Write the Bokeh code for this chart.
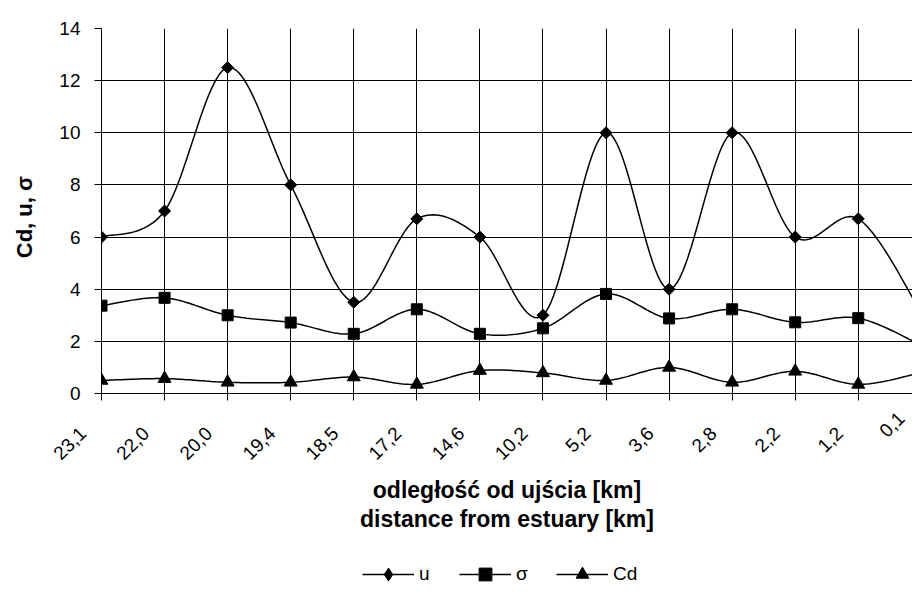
import math
import numpy as np
from bokeh.plotting import figure
from bokeh.layouts import column
from bokeh.models import Legend, LegendItem, FixedTicker, Range1d
from bokeh.embed import file_html
from bokeh.resources import INLINE

categories = ["23,1", "22,0", "20,0", "19,4", "18,5", "17,2", "14,6",
              "10,2", "5,2", "3,6", "2,8", "2,2", "1,2", "0,1"]
u_vals = [6.0, 7.0, 12.5, 8.0, 3.5, 6.7, 6.0, 3.0, 10.0, 4.0, 10.0, 6.0, 6.7, 3.1]
sigma_vals = [3.37, 3.67, 3.0, 2.72, 2.29, 3.23, 2.29, 2.5, 3.82, 2.88, 3.23, 2.73, 2.89, 1.85]
cd_vals = [0.5, 0.57, 0.43, 0.43, 0.63, 0.35, 0.88, 0.79, 0.5, 1.0, 0.43, 0.85, 0.35, 0.8]
y_ticks = [0, 2, 4, 6, 8, 10, 12, 14]

FONT = "Liberation Sans"
NBSP = "\u00a0"
xs = list(range(len(categories)))
X_END = 12.86   # the last category lies just beyond the visible right edge


def smooth(xv, yv, n=24):
    P = np.column_stack([xv, yv]).astype(float)
    E = np.vstack([P[0], P, P[-1]])
    out = []
    for i in range(len(P) - 1):
        p0, p1, p2, p3 = E[i], E[i + 1], E[i + 2], E[i + 3]
        c1 = p1 + (p2 - p0) / 6.0
        c2 = p2 - (p3 - p1) / 6.0
        t = np.linspace(0, 1, n)[:, None]
        seg = (1 - t) ** 3 * p1 + 3 * (1 - t) ** 2 * t * c1 + 3 * (1 - t) * t ** 2 * c2 + t ** 3 * p2
        out.append(seg if i == 0 else seg[1:])
    S = np.vstack(out)
    return S[:, 0], S[:, 1]


p = figure(width=912, height=555, x_range=Range1d(0, X_END), y_range=Range1d(0, 14),
           output_backend="svg", toolbar_location=None,
           min_border_left=101, min_border_right=0, min_border_top=28, min_border_bottom=162)
p.outline_line_color = None
p.background_fill_color = "white"
p.border_fill_color = "white"

# grid
p.xgrid.ticker = FixedTicker(ticks=xs)
p.ygrid.ticker = FixedTicker(ticks=y_ticks)
for g in (p.xgrid, p.ygrid):
    g.grid_line_color = "black"
    g.grid_line_width = 1

# x axis
visible_ticks = xs[:-1] + [X_END]
overrides = {i: c + NBSP * 5 for i, c in zip(xs[:-1], categories[:-1])}
overrides[X_END] = categories[-1] + NBSP
p.xaxis.ticker = FixedTicker(ticks=visible_ticks)
p.xaxis.major_label_overrides = overrides
p.xaxis.major_label_orientation = math.pi / 4
p.xaxis.major_label_standoff = 11
p.xaxis.axis_label = "odległość od ujścia [km]\ndistance from estuary [km]"
p.xaxis.axis_label_standoff = 3
p.xaxis.axis_label_text_font_size = "23px"
p.xaxis.axis_label_text_line_height = 1.1

# y axis
p.yaxis.ticker = FixedTicker(ticks=y_ticks)
p.yaxis.major_label_standoff = 14
p.yaxis.axis_label = "Cd,  u,  σ"
p.yaxis.axis_label_text_font_size = "22px"
p.yaxis.axis_label_standoff = 19

for ax in (p.xaxis[0], p.yaxis[0]):
    ax.axis_line_color = "black"
    ax.axis_line_width = 1
    ax.major_tick_line_color = "black"
    ax.major_tick_out = 7
    ax.major_tick_in = 0
    ax.minor_tick_line_color = None
    ax.major_label_text_font = FONT
    ax.major_label_text_font_size = "19px"
    ax.major_label_text_color = "black"
    ax.axis_label_text_font = FONT
    ax.axis_label_text_font_style = "bold"
    ax.axis_label_text_color = "black"

series = [("u", u_vals, "square", 8.5, math.pi / 4, "diamond"),
          ("σ", sigma_vals, "square", 11, 0, "square"),
          ("Cd", cd_vals, "triangle", 13, 0, "triangle")]

for label, vals, marker, size, angle, leg_marker in series:
    sx, sy = smooth(xs, vals)
    p.line(sx, sy, line_color="black", line_width=1.5)
    p.scatter(xs, vals, marker=marker, size=size, angle=angle,
              fill_color="black", line_color="black")

# legend row (its frame is aligned with the chart frame by the column layout)
lg = figure(width=912, height=40, x_range=Range1d(0, 1), y_range=Range1d(0, 1),
            output_backend="svg", toolbar_location=None,
            x_axis_type=None, y_axis_type=None, min_border=0)
lg.outline_line_color = None
lg.grid.visible = False
items = []
nan = [float("nan")]
for label, vals, marker, size, angle, leg_marker in series:
    ln = lg.line(x=nan, y=nan, line_color="black", line_width=1.5)
    mk = lg.scatter(x=nan, y=nan, marker=leg_marker, size=size,
                    fill_color="black", line_color="black")
    items.append(LegendItem(label=label, renderers=[ln, mk]))
legend = Legend(items=items, orientation="horizontal", location=(261, 5),
                border_line_color=None, background_fill_alpha=0,
                label_text_font=FONT, label_text_font_size="19px",
                label_text_color="black",
                glyph_width=52, glyph_height=32, label_standoff=5, spacing=20,
                padding=0, margin=0)
lg.add_layout(legend, "center")

layout = column(p, lg, spacing=0)
open("out.html", "w").write(file_html(layout, INLINE))
